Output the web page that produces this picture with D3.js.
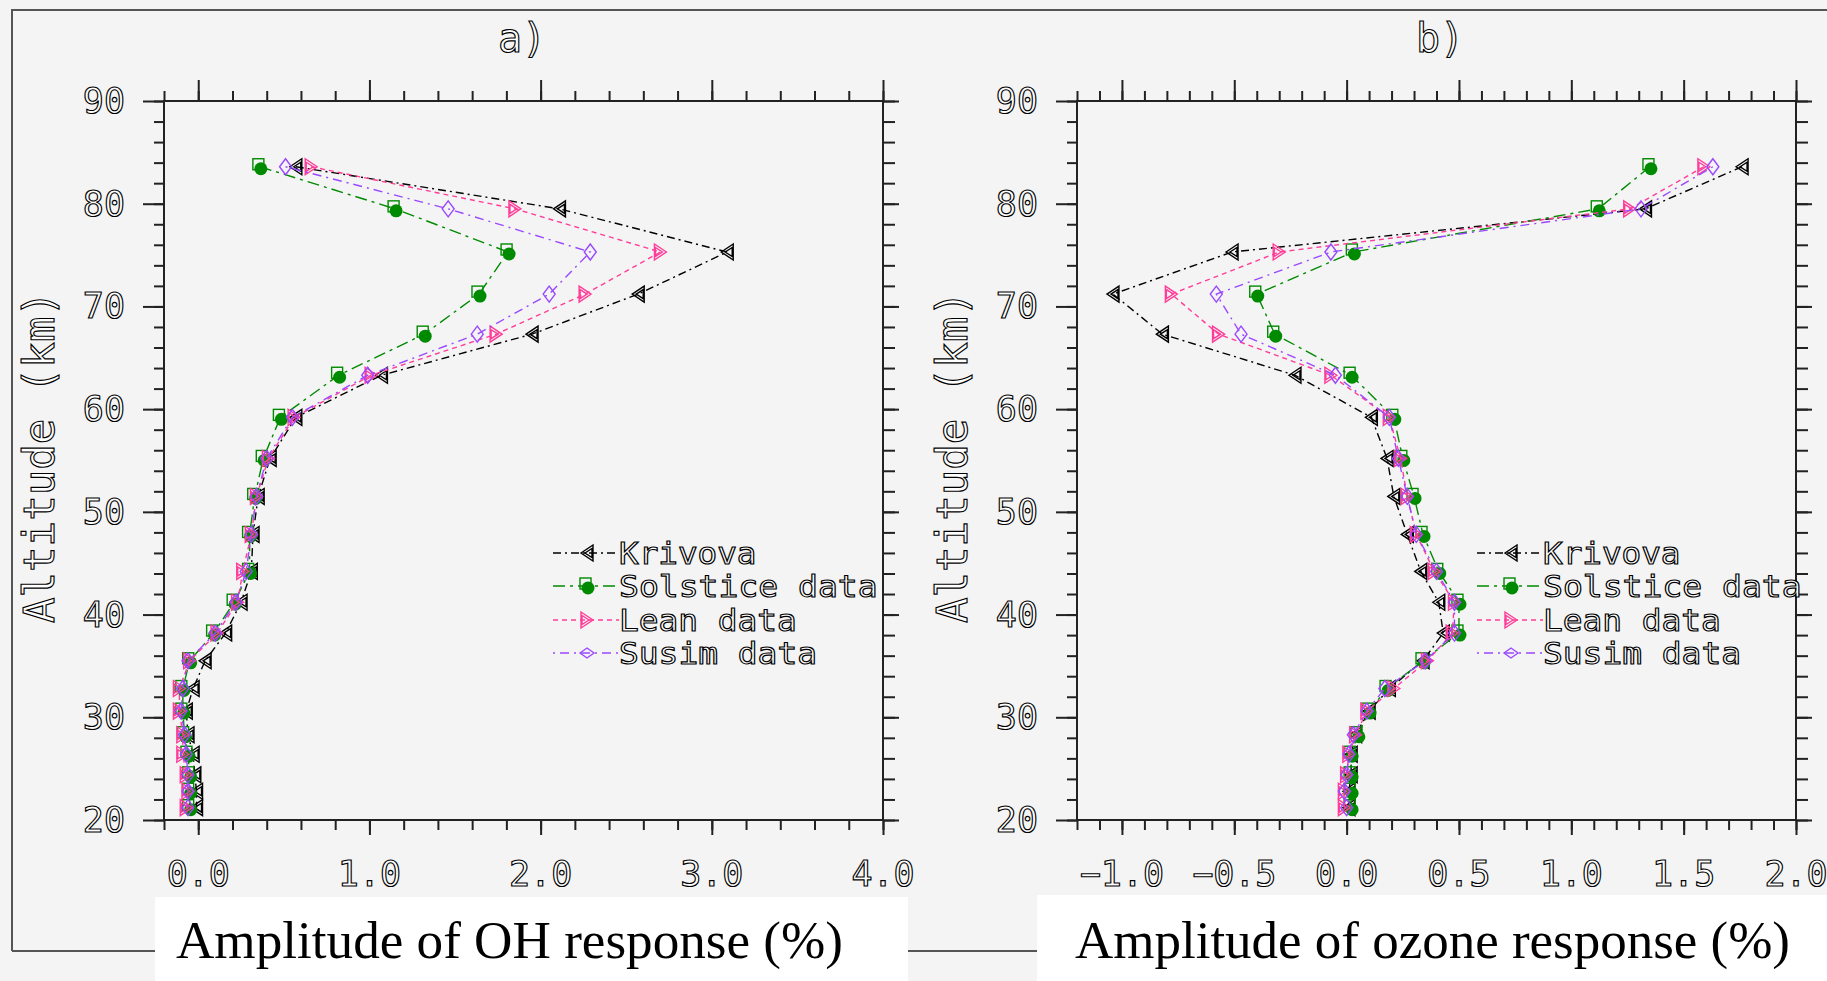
<!DOCTYPE html>
<html>
<head>
<meta charset="utf-8">
<script src="https://cdn.jsdelivr.net/npm/d3@7/dist/d3.min.js"></script>
<style>
  html, body { margin: 0; padding: 0; background: #f4f4f4; }
  .hershey { font-family: "DejaVu Sans Mono", monospace; fill: #fff; stroke: #000; stroke-width: 1.15px; }
  .serif { font-family: "Liberation Serif", "Times New Roman", serif; fill: #000; }
  .tick line { stroke: #222; stroke-width: 2px; }
</style>
</head>
<body>
<svg id="chart" width="1827" height="981"></svg>
<script>
// altitude levels (km) where the profiles are sampled
const altitude = [83.6, 79.5, 75.3, 71.2, 67.3, 63.3, 59.2, 55.2, 51.5, 47.8, 44.2,
                  41.2, 38.2, 35.5, 32.8, 30.6, 28.3, 26.4, 24.4, 22.8, 21.2];

const seriesNames = ["Krivova", "Solstice data", "Lean data", "Susim data"];

// a) OH response (%)
const krivovaOH  = [0.57, 2.11, 3.09, 2.57, 1.95, 1.07, 0.57, 0.42, 0.35, 0.32, 0.31,
                    0.25, 0.16, 0.04, -0.03, -0.07, -0.06, -0.03, -0.02, -0.01, -0.01];
const solsticeOH = [0.36, 1.15, 1.81, 1.64, 1.32, 0.82, 0.48, 0.38, 0.33, 0.30, 0.30,
                    0.21, 0.09, -0.05, -0.09, -0.09, -0.08, -0.06, -0.05, -0.05, -0.05];
const leanOH     = [0.66, 1.85, 2.70, 2.26, 1.74, 1.01, 0.56, 0.41, 0.34, 0.31, 0.26,
                    0.23, 0.11, -0.05, -0.11, -0.11, -0.09, -0.09, -0.07, -0.06, -0.07];
const susimOH    = [0.51, 1.46, 2.29, 2.05, 1.63, 0.99, 0.55, 0.40, 0.34, 0.31, 0.28,
                    0.22, 0.10, -0.06, -0.09, -0.10, -0.08, -0.07, -0.06, -0.06, -0.06];

// b) ozone response (%)
const krivovaO3  = [1.76, 1.33, -0.51, -1.04, -0.82, -0.23, 0.11, 0.18, 0.21, 0.27, 0.33,
                    0.41, 0.43, 0.34, 0.19, 0.10, 0.04, 0.02, 0.02, 0.01, 0.01];
const solsticeO3 = [1.35, 1.12, 0.03, -0.40, -0.32, 0.02, 0.21, 0.25, 0.30, 0.34, 0.41,
                    0.50, 0.50, 0.34, 0.18, 0.10, 0.05, 0.02, 0.02, 0.02, 0.02];
const leanO3     = [1.59, 1.26, -0.30, -0.78, -0.57, -0.07, 0.19, 0.24, 0.27, 0.31, 0.39,
                    0.48, 0.47, 0.36, 0.21, 0.09, 0.04, 0.01, 0.00, -0.01, -0.01];
const susimO3    = [1.63, 1.31, -0.07, -0.58, -0.47, -0.05, 0.19, 0.23, 0.27, 0.31, 0.40,
                    0.48, 0.48, 0.35, 0.17, 0.09, 0.03, 0.01, 0.00, -0.01, 0.00];

// axis ticks
const altMinorTicks = d3.range(10, 46).map(i => i * 2);
const altMajorTicks = [20, 30, 40, 50, 60, 70, 80, 90];
const ohMinorTicks = d3.range(-1, 21).map(i => i * 0.2);
const ohMajorTicks = [0, 1, 2, 3, 4];
const o3MinorTicks = d3.range(-12, 21).map(i => i / 10);
const o3MajorTicks = [-1, -0.5, 0, 0.5, 1, 1.5, 2];

const styles = [
  { color: "#000000", dash: "8,4,2,4", marker: "left" },
  { color: "#008a00", dash: "12,5,3,5", marker: "solstice" },
  { color: "#ff3d98", dash: "5,4", marker: "right" },
  { color: "#9a48ff", dash: "2,5,9,5", marker: "diamond" }
];

const svg = d3.select("#chart");
svg.append("rect").attr("width", 1827).attr("height", 981).attr("fill", "#f4f4f4");

// outer frame
svg.append("path")
  .attr("d", "M12,951V10H1830M12,951H1830")
  .attr("fill", "none").attr("stroke", "#555").attr("stroke-width", 2);

const y = d3.scaleLinear().domain([20, 90]).range([820, 101]);

function drawMarker(g, kind, color, small) {
  if (kind === "solstice") {
    g.append("circle").attr("cx", 1).attr("cy", 2).attr("r", 6.5).attr("fill", color);
    g.append("rect").attr("x", -7).attr("y", -8).attr("width", 11).attr("height", 11)
      .attr("fill", "none").attr("stroke", color).attr("stroke-width", 1.4);
    return;
  }
  let d;
  if (kind === "left") d = "M-6,0L6,-8L6,8Z M-2,0L5,-4.5L5,4.5Z";
  else if (kind === "right") d = "M6,0L-6,-8L-6,8Z M2,0L-5,-4.5L-5,4.5Z";
  else d = small ? "M-7,0L0,-5L7,0L0,5Z" : "M0,-8L6,0L0,8L-6,0Z";
  g.append("path").attr("d", d).attr("fill", "none")
    .attr("stroke", color).attr("stroke-width", 1.4);
}

function drawPanel(p) {
  const x = d3.scaleLinear().domain(p.domain).range([p.left, p.right]);
  const g = svg.append("g");

  // ticks via d3 axes
  const axes = [
    [d3.axisTop(x).tickValues(p.minor).tickSize(10), `translate(0,${y(90)})`],
    [d3.axisTop(x).tickValues(p.major).tickSize(21), `translate(0,${y(90)})`],
    [d3.axisBottom(x).tickValues(p.minor).tickSize(10), `translate(0,${y(20)})`],
    [d3.axisBottom(x).tickValues(p.major).tickSize(15), `translate(0,${y(20)})`],
    [d3.axisLeft(y).tickValues(altMinorTicks).tickSize(10), `translate(${p.left},0)`],
    [d3.axisLeft(y).tickValues(altMajorTicks).tickSize(21), `translate(${p.left},0)`],
    [d3.axisRight(y).tickValues(altMinorTicks).tickSize(12), `translate(${p.right},0)`],
    [d3.axisRight(y).tickValues(altMajorTicks).tickSize(16), `translate(${p.right},0)`]
  ];
  axes.forEach(([ax, tr]) => {
    const a = g.append("g").attr("transform", tr)
      .call(ax.tickFormat("").tickSizeOuter(0));
    a.select(".domain").remove();
  });

  // frame
  g.append("rect")
    .attr("x", p.left).attr("y", y(90))
    .attr("width", p.right - p.left).attr("height", y(20) - y(90))
    .attr("fill", "none").attr("stroke", "#222").attr("stroke-width", 2);

  // tick labels
  g.selectAll(".xl").data(p.major).join("text")
    .attr("class", "hershey").attr("font-size", 35)
    .attr("text-anchor", "middle")
    .attr("x", d => x(d)).attr("y", 886)
    .text(d => d3.format(".1f")(d));
  g.selectAll(".yl").data(altMajorTicks).join("text")
    .attr("class", "hershey").attr("font-size", 35)
    .attr("text-anchor", "end")
    .attr("x", p.left - 39).attr("y", d => y(d) + 12)
    .text(d => d);

  // axis title
  g.append("text").attr("class", "hershey").attr("font-size", 42)
    .attr("text-anchor", "middle")
    .attr("transform", `translate(${p.left - 110},457) rotate(-90)`)
    .attr("textLength", 332).attr("lengthAdjust", "spacingAndGlyphs")
    .text("Altitude (km)");

  // panel title
  g.append("text").attr("class", "hershey").attr("font-size", 40)
    .attr("text-anchor", "middle")
    .attr("x", p.titleX).attr("y", 52)
    .text(p.title);

  // profiles
  const line = d3.line().x(d => x(d[1])).y(d => y(d[0]));
  p.series.forEach((vals, i) => {
    const st = styles[i];
    const pts = altitude.map((a, k) => [a, vals[k]]);
    g.append("path").datum(pts)
      .attr("d", line).attr("fill", "none")
      .attr("stroke", st.color).attr("stroke-width", 1.4)
      .attr("stroke-dasharray", st.dash);
    pts.forEach(pt => {
      const m = g.append("g").attr("transform", `translate(${x(pt[1])},${y(pt[0])})`);
      drawMarker(m, st.marker, st.color, false);
    });
  });

  // legend
  const rows = [553, 586, 620, 653];
  seriesNames.forEach((name, i) => {
    const st = styles[i];
    const lg = g.append("g").attr("transform", `translate(${p.legendX},${rows[i]})`);
    lg.append("line").attr("x1", 0).attr("x2", 66)
      .attr("stroke", st.color).attr("stroke-width", 1.4)
      .attr("stroke-dasharray", st.dash);
    drawMarker(lg.append("g").attr("transform", "translate(34,0)"), st.marker, st.color, true);
    lg.append("text").attr("class", "hershey").attr("font-size", 30)
      .attr("x", 66).attr("y", 11)
      .attr("textLength", name.length * 20.2 - 4).attr("lengthAdjust", "spacingAndGlyphs")
      .text(name);
  });

  // x-axis caption on white box
  svg.append("rect").attr("x", p.box[0]).attr("y", p.box[1])
    .attr("width", p.box[2]).attr("height", 981 - p.box[1]).attr("fill", "#fff");
  svg.append("text").attr("class", "serif").attr("font-size", 53)
    .attr("x", p.labelX[0]).attr("y", 958)
    .attr("textLength", p.labelX[1] - p.labelX[0]).attr("lengthAdjust", "spacingAndGlyphs")
    .text(p.xlabel);
}

drawPanel({
  title: "a)", titleX: 522, domain: [-0.2, 4.0], left: 164, right: 883,
  minor: ohMinorTicks, major: ohMajorTicks,
  series: [krivovaOH, solsticeOH, leanOH, susimOH],
  legendX: 553, box: [155, 897, 753], labelX: [176, 843],
  xlabel: "Amplitude of OH response (%)"
});
drawPanel({
  title: "b)", titleX: 1440, domain: [-1.2, 2.0], left: 1077, right: 1796,
  minor: o3MinorTicks, major: o3MajorTicks,
  series: [krivovaO3, solsticeO3, leanO3, susimO3],
  legendX: 1477, box: [1037, 895, 790], labelX: [1075, 1790],
  xlabel: "Amplitude of ozone response (%)"
});
</script>
</body>
</html>
